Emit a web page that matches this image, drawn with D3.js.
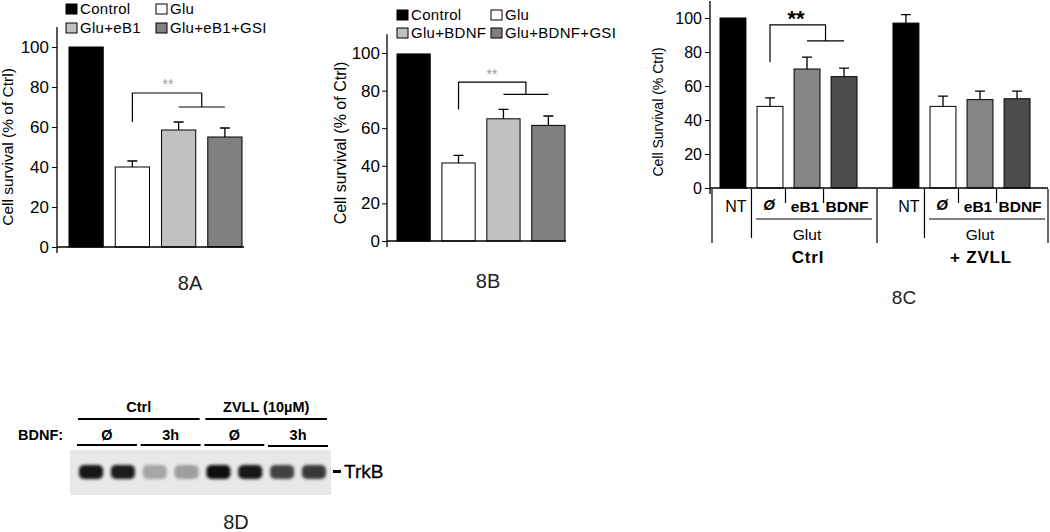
<!DOCTYPE html>
<html>
<head>
<meta charset="utf-8">
<script src="https://cdn.jsdelivr.net/npm/d3@7"></script>
<style>
  body { margin: 0; background: #fff; }
  svg { display: block; font-family: "Liberation Sans", Arial, sans-serif; }
</style>
</head>
<body>
<svg id="fig" width="1050" height="532"></svg>
<script>
// ---- data ----
const groupsA = ["Control", "Glu", "Glu+eB1", "Glu+eB1+GSI"];
const valuesA = [100, 40, 58.5, 55];
const errorsA = [0, 3, 4, 4.5];

const groupsB = ["Control", "Glu", "Glu+BDNF", "Glu+BDNF+GSI"];
const valuesB = [99.5, 41.5, 65, 61.5];
const errorsB = [0, 4, 5, 5];

const treatmentsC = ["NT", "Ø", "eB1", "BDNF"];
const conditionsC = ["Ctrl", "+ ZVLL"];
const valuesCtrl = [100, 48, 70, 65.5];
const errorsCtrl = [0, 5, 7, 5];
const valuesZVLL = [97, 48, 52, 52.5];
const errorsZVLL = [5, 6, 5, 4.5];

const yTicks = [0, 20, 40, 60, 80, 100];

const blotConditions = ["Ctrl", "ZVLL (10µM)"];
const blotBdnf = ["Ø", "3h", "Ø", "3h"];
const bandIntensity = [0.95, 0.92, 0.3, 0.33, 0.97, 0.94, 0.74, 0.78];

const fillsAB = ["#000", "#fff", "#c0c0c0", "#808080"];
const fillsC = ["#000", "#fff", "#858585", "#4d4d4d"];

const svg = d3.select("#fig");
svg.append("rect").attr("width", 1050).attr("height", 532).attr("fill", "#fff");

// significance bracket: from one bar up, across, down to a bar pair
function bracket(g, x, y, from, pair, low, top, mid) {
  const xl = x(from) + x.bandwidth() / 2;
  const xa = x(pair[0]) + x.bandwidth() / 2;
  const xb = x(pair[1]) + x.bandwidth() / 2;
  const xm = (xa + xb) / 2;
  g.append("path")
    .attr("d", `M${xl},${y(low)}V${y(top)}H${xm}V${y(mid)}M${xa},${y(mid)}H${xb}`)
    .attr("fill", "none").attr("stroke", "#000").attr("stroke-width", 1.2);
}

function errorBars(g, x, y, cats, vals, errs) {
  cats.forEach((c, i) => {
    if (!errs[i]) return;
    const cx = x(c) + x.bandwidth() / 2;
    g.append("path")
      .attr("d", `M${cx},${y(vals[i])}V${y(vals[i] + errs[i])}M${cx - 5},${y(vals[i] + errs[i])}H${cx + 5}`)
      .attr("fill", "none").attr("stroke", "#000").attr("stroke-width", 1.3);
  });
}

function yAxis(g, y, cfg) {
  const ax = g.append("g")
    .attr("transform", `translate(${cfg.left},0)`)
    .call(d3.axisLeft(y).tickValues(yTicks).tickSize(5).tickPadding(cfg.pad).tickSizeOuter(0));
  ax.select(".domain").remove();
  ax.selectAll("text").attr("font-size", cfg.tickFont).attr("fill", "#000")
    .attr("font-family", "Liberation Sans, Arial, sans-serif");
  ax.selectAll("line").attr("stroke", "#000");
  g.append("line")
    .attr("x1", cfg.left).attr("x2", cfg.left)
    .attr("y1", y(110)).attr("y2", y(0) + 6)
    .attr("stroke", "#000").attr("stroke-width", 1.3);
  g.append("line")
    .attr("x1", cfg.left).attr("x2", cfg.baseEnd)
    .attr("y1", y(0)).attr("y2", y(0))
    .attr("stroke", "#000").attr("stroke-width", 1.5);
  g.append("text")
    .attr("transform", `translate(${cfg.labelX},${cfg.labelY}) rotate(-90)`)
    .attr("text-anchor", "middle").attr("font-size", cfg.labelFont)
    .text(cfg.label);
}

// ---- panels 8A and 8B ----
function simplePanel(cfg, cats, vals, errs) {
  const g = svg.append("g");
  const y = d3.scaleLinear().domain([0, 110]).range([cfg.y0, cfg.y0 - 110 * cfg.k]);
  const x = d3.scaleBand().domain(cats).range([cfg.barStart, cfg.barEnd]).paddingInner(0.26);

  g.selectAll("rect.bar").data(cats).join("rect")
    .attr("class", "bar")
    .attr("x", d => x(d)).attr("width", x.bandwidth())
    .attr("y", (d, i) => y(vals[i])).attr("height", (d, i) => y(0) - y(vals[i]))
    .attr("fill", (d, i) => fillsAB[i]).attr("stroke", "#000").attr("stroke-width", 1);

  errorBars(g, x, y, cats, vals, errs);
  yAxis(g, y, cfg);
  bracket(g, x, y, cats[1], [cats[2], cats[3]], cfg.br[0], cfg.br[1], cfg.br[2]);
  g.append("text")
    .attr("x", cfg.starX).attr("y", cfg.starY)
    .attr("text-anchor", "middle").attr("font-size", 14).attr("fill", "#999")
    .text("**");

  // legend, two columns by two rows
  cats.forEach((c, i) => {
    const lx = cfg.legX[i % 2], ly = cfg.legY[Math.floor(i / 2)];
    g.append("rect").attr("x", lx).attr("y", ly - 10).attr("width", 11).attr("height", 10)
      .attr("fill", fillsAB[i]).attr("stroke", "#000").attr("stroke-width", 1);
    g.append("text").attr("x", lx + 14).attr("y", ly)
      .attr("font-size", 15).attr("letter-spacing", 0.3).text(c);
  });

  g.append("text").attr("x", cfg.titleX).attr("y", cfg.titleY)
    .attr("text-anchor", "middle").attr("font-size", 20).attr("fill", "#222")
    .text(cfg.title);
}

simplePanel({
  left: 57, y0: 247, k: 2, barStart: 69, barEnd: 242, baseEnd: 244,
  pad: 3, tickFont: 17, labelX: 13, labelY: 147, labelFont: 15.5,
  label: "Cell survival (% of Ctrl)",
  br: [62.5, 77, 70], starX: 168, starY: 89,
  legX: [66, 156], legY: [14, 33],
  title: "8A", titleX: 190, titleY: 290
}, groupsA, valuesA, errorsA);

simplePanel({
  left: 387, y0: 241, k: 1.88, barStart: 397, barEnd: 565, baseEnd: 566,
  pad: 2, tickFont: 17, labelX: 346, labelY: 143, labelFont: 16,
  label: "Cell survival (% of Ctrl)",
  br: [70, 84.5, 78], starX: 492, starY: 79,
  legX: [397, 491], legY: [20, 38],
  title: "8B", titleX: 488, titleY: 288
}, groupsB, valuesB, errorsB);

// ---- panel 8C ----
(function () {
  const g = svg.append("g");
  const cfg = { left: 710, baseEnd: 1048, pad: 3, tickFont: 16, labelX: 663, labelY: 112,
    labelFont: 14, label: "Cell Survival (% Ctrl)" };
  const y = d3.scaleLinear().domain([0, 110]).range([188, 188 - 110 * 1.7]);
  const xg = d3.scaleBand().domain(conditionsC).range([720, 1030]).paddingInner(0.208);
  const sets = [[valuesCtrl, errorsCtrl], [valuesZVLL, errorsZVLL]];

  conditionsC.forEach((cond, k) => {
    const gg = g.append("g");
    const x = d3.scaleBand().domain(treatmentsC)
      .range([xg(cond), xg(cond) + xg.bandwidth()]).paddingInner(0.3);
    const [vals, errs] = sets[k];
    gg.selectAll("rect").data(treatmentsC).join("rect")
      .attr("x", d => x(d)).attr("width", x.bandwidth())
      .attr("y", (d, i) => y(vals[i])).attr("height", (d, i) => y(0) - y(vals[i]))
      .attr("fill", (d, i) => fillsC[i]).attr("stroke", "#000").attr("stroke-width", 1);
    errorBars(gg, x, y, treatmentsC, vals, errs);
    if (k === 0) bracket(gg, x, y, "Ø", ["eB1", "BDNF"], 74, 96, 86.5);

    // category table under the axis
    const bw = x.bandwidth();
    const mids = [1, 2, 3].map(i => (x(treatmentsC[i - 1]) + bw + x(treatmentsC[i])) / 2);
    const t = (s, cx, cy, size, bold) => gg.append("text").attr("x", cx).attr("y", cy)
      .attr("text-anchor", "middle").attr("font-size", size)
      .attr("font-weight", bold ? "bold" : "normal").text(s);
    const vline = (xx, y2) => gg.append("line").attr("x1", xx).attr("x2", xx)
      .attr("y1", 189).attr("y2", y2).attr("stroke", "#000").attr("stroke-width", 1.2);
    vline(mids[0], 238);
    vline(mids[1] - 3, 203);
    vline(mids[2] - 2, 203);
    treatmentsC.forEach((tr, i) => {
      const cx = x(tr) + bw / 2;
      if (i === 0) t(tr, cx + 3, 212, 16, false);
      else if (tr === "Ø") t(tr, cx - 1, 210, 15, true).attr("font-style", "italic");
      else t(tr, cx - (i === 2 ? 2 : -3), 212, 15.5, true);
    });
    const gx0 = x("Ø") - 1, gx1 = x("BDNF") + bw + 15;
    gg.append("line").attr("x1", gx0).attr("x2", gx1).attr("y1", 219).attr("y2", 219)
      .attr("stroke", "#000").attr("stroke-width", 1);
    const gc = (x("Ø") + x("BDNF") + bw) / 2;
    t("Glut", gc, 240, 15.5, false);
    t(cond, gc + 1, 263, 17, true).attr("letter-spacing", 0.8);
  });

  // outer separators
  const ends = [712, (xg(conditionsC[0]) + xg.bandwidth() + xg(conditionsC[1])) / 2 + 2, 1048];
  ends.forEach(xx => g.append("line").attr("x1", xx).attr("x2", xx)
    .attr("y1", 189).attr("y2", 243).attr("stroke", "#000").attr("stroke-width", 1.2));

  yAxis(g, y, cfg);
  g.append("text").attr("x", 796).attr("y", 26).attr("text-anchor", "middle")
    .attr("font-size", 22).attr("font-weight", "bold").text("**");
  g.append("text").attr("x", 904).attr("y", 304).attr("text-anchor", "middle")
    .attr("font-size", 19).attr("fill", "#222").text("8C");
})();

// ---- panel 8D: western blot ----
(function () {
  const g = svg.append("g");
  const lanes = d3.range(bandIntensity.length);
  const x = d3.scaleBand().domain(lanes).range([78, 327]).paddingInner(0.18);
  const shade = d3.interpolateRgb("#e8e8e8", "#080808");

  const defs = svg.append("defs");
  defs.append("filter").attr("id", "blur").attr("x", "-30%").attr("y", "-60%")
    .attr("width", "160%").attr("height", "220%")
    .append("feGaussianBlur").attr("stdDeviation", 1.8);

  g.append("rect").attr("x", 70).attr("y", 450).attr("width", 261).attr("height", 45)
    .attr("fill", "#e8e8e8");
  g.selectAll("rect.band").data(lanes).join("rect")
    .attr("class", "band")
    .attr("x", d => x(d) + 1).attr("width", x.bandwidth() - 2)
    .attr("y", 465).attr("height", 14).attr("rx", 5)
    .attr("fill", d => shade(bandIntensity[d]))
    .attr("filter", "url(#blur)");

  const hline = (x1, x2, yy, w) => g.append("line").attr("x1", x1).attr("x2", x2)
    .attr("y1", yy).attr("y2", yy).attr("stroke", "#000").attr("stroke-width", w);
  const txt = (s, cx, cy, size, bold, anchor) => g.append("text").attr("x", cx).attr("y", cy)
    .attr("text-anchor", anchor || "middle").attr("font-size", size)
    .attr("font-weight", bold ? "bold" : "normal").text(s);

  blotConditions.forEach((c, k) => {
    const a = x(k * 4), b = x(k * 4 + 3) + x.bandwidth();
    hline(a, b, 419, 2);
    txt(c, (a + b) / 2, 412, 14.5, true);
  });
  blotBdnf.forEach((s, k) => {
    const a = x(k * 2) - 1, b = x(k * 2 + 1) + x.bandwidth() + 1;
    hline(a, b, k === 3 ? 446 : 445, 2);
    txt(s, (a + b) / 2, 440, 14.5, true);
  });
  txt("BDNF:", 18, 440, 14.5, true, "start");
  hline(333, 341, 471.5, 3);
  txt("TrkB", 344, 478, 19, false, "start").attr("stroke", "#000").attr("stroke-width", 0.3);
  txt("8D", 236, 529, 20, false).attr("fill", "#222");
})();
</script>
</body>
</html>
